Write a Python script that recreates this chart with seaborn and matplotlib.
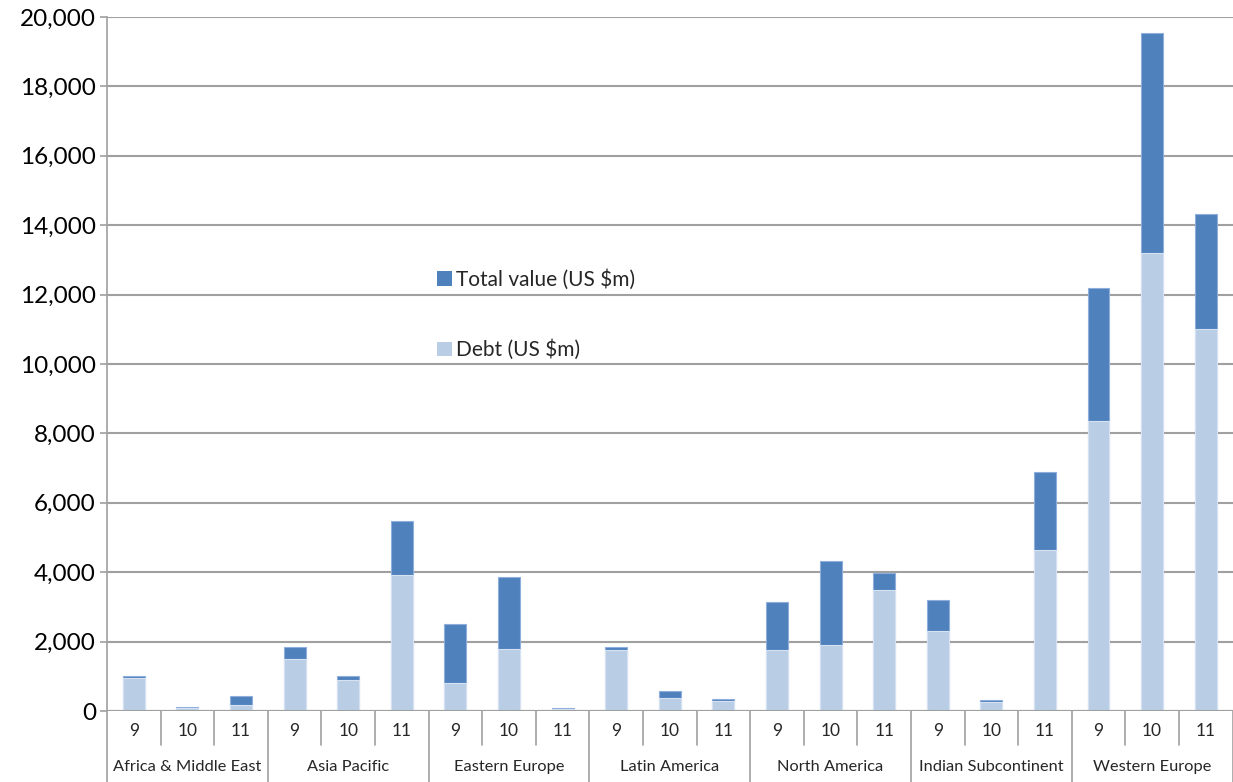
import matplotlib
matplotlib.use("Agg")
import matplotlib.pyplot as plt
from matplotlib.patches import Patch
from matplotlib.ticker import FuncFormatter
import seaborn as sns
import pandas as pd

regions = ["Africa & Middle East", "Asia Pacific", "Eastern Europe", "Latin America",
           "North America", "Indian Subcontinent", "Western Europe"]
years = ["9", "10", "11"]

# Per region, years 9 / 10 / 11
total_value = [1010, 110, 430,
               1850, 1010, 5480,
               2520, 3860, 80,
               1850, 580, 340,
               3140, 4310, 3990,
               3190, 330, 6900,
               12180, 19540, 14310]
debt = [960, 100, 160,
        1510, 880, 3910,
        800, 1800, 70,
        1760, 370, 300,
        1770, 1890, 3480,
        2310, 260, 4650,
        8350, 13200, 11020]

sns.set_theme(style="white")
plt.rcParams["font.family"] = ["Lato", "DejaVu Sans"]

slots = [f"{r}|{y}" for r in regions for y in years]
df = pd.DataFrame({"slot": slots, "total": total_value, "debt": debt})

dark = "#4F81BD"
light = "#B9CDE5"
grid_c = "#A0A0A0"

fig = plt.figure(figsize=(12.33, 7.82), dpi=100)
ax = fig.add_axes([107 / 1233, 71 / 782, 1 - 107 / 1233 - 0.5 / 1233, 694 / 782])

sns.barplot(data=df, x="slot", y="total", order=slots, color=dark, width=0.41,
            errorbar=None, edgecolor="#8EAEDB", linewidth=0.8, saturation=1, ax=ax)
sns.barplot(data=df, x="slot", y="debt", order=slots, color=light, width=0.41,
            errorbar=None, edgecolor="#D6E2F1", linewidth=0.8, saturation=1, ax=ax)

ax.set_xlim(-0.5, len(slots) - 0.5)
ax.set_ylim(0, 20000)
ax.set_yticks(range(0, 20001, 2000))
ax.yaxis.set_major_formatter(FuncFormatter(lambda v, p: f"{int(v):,}"))
ax.tick_params(axis="y", labelsize=17.5, length=5, width=1.2, color=grid_c, pad=3,
               left=True, labelcolor="black")
ax.set_xticks([])
ax.set_xlabel("")
ax.set_ylabel("")
ax.yaxis.grid(True, color=grid_c, linewidth=1.5)
ax.set_axisbelow(True)
for side in ["top", "right", "bottom"]:
    ax.spines[side].set_visible(False)
ax.spines["left"].set_color(grid_c)
ax.spines["left"].set_linewidth(1.2)
ax.axhline(0, color=grid_c, linewidth=1.5, zorder=3)

# Two-level category table under the axis
trans = ax.get_xaxis_transform()
row1 = -34 / 694
row2 = -71 / 694
for i in range(len(slots) + 1):
    edge = i - 0.5
    bottom = row2 if i % len(years) == 0 else row1
    ax.plot([edge, edge], [0, bottom], transform=trans, color=grid_c,
            linewidth=1.2, clip_on=False)
for i, s in enumerate(slots):
    ax.text(i, -20 / 694, s.split("|")[1], transform=trans, ha="center", va="center",
            fontsize=12.5)
for g, r in enumerate(regions):
    ax.text(g * len(years) + 1, -56 / 694, r, transform=trans, ha="center",
            va="center", fontsize=11.8)

handles = [Patch(facecolor=dark, edgecolor="none", label="Total value (US $m)"),
           Patch(facecolor=light, edgecolor="none", label="Debt (US $m)")]
ax.legend(handles=handles, loc="upper left", bbox_to_anchor=(437 / 1233, 1 - 269 / 782),
          bbox_transform=fig.transFigure, frameon=False, fontsize=15,
          handlelength=0.7, handleheight=0.7, handletextpad=0.2,
          labelspacing=2.4, borderaxespad=0, borderpad=0)

fig.savefig("out.png", dpi=100)
